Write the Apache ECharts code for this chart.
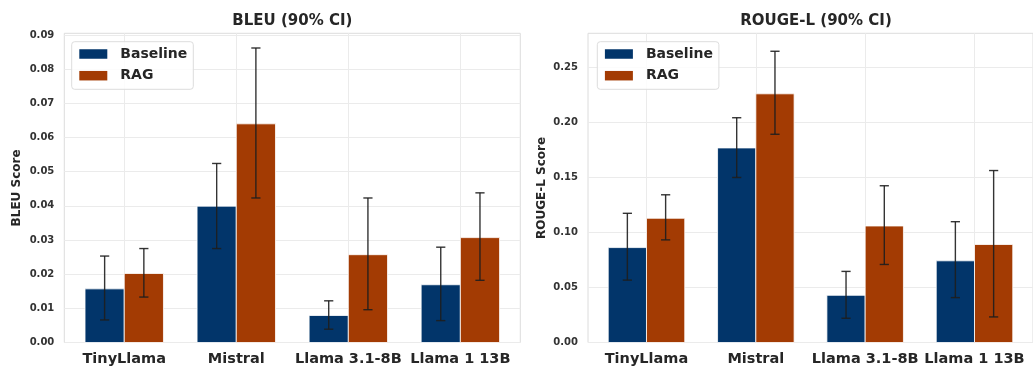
<!DOCTYPE html>
<html>
<head>
<meta charset="utf-8">
<script src="https://cdn.jsdelivr.net/npm/echarts@6/dist/echarts.min.js"></script>
<style>
html,body{margin:0;padding:0;background:#fff;}
#chart{width:1033px;height:367px;}
</style>
</head>
<body>
<div id="chart"></div>
<script>
// ---- data ----
const categories = ['TinyLlama', 'Mistral', 'Llama 3.1-8B', 'Llama 1 13B'];
const seriesNames = ['Baseline', 'RAG'];

const bleuBaseline     = [0.0157, 0.0399, 0.0079, 0.0169];
const bleuBaselineLow  = [0.0066, 0.0275, 0.0039, 0.0064];
const bleuBaselineHigh = [0.0253, 0.0524, 0.0122, 0.0279];
const bleuRag          = [0.0202, 0.0640, 0.0257, 0.0307];
const bleuRagLow       = [0.0133, 0.0423, 0.0096, 0.0182];
const bleuRagHigh      = [0.0275, 0.0862, 0.0423, 0.0438];

const rougeBaseline     = [0.0861, 0.1765, 0.0428, 0.0741];
const rougeBaselineLow  = [0.0566, 0.1497, 0.0220, 0.0407];
const rougeBaselineHigh = [0.1172, 0.2039, 0.0645, 0.1096];
const rougeRag          = [0.1127, 0.2256, 0.1057, 0.0889];
const rougeRagLow       = [0.0931, 0.1889, 0.0708, 0.0232];
const rougeRagHigh      = [0.1340, 0.2642, 0.1422, 0.1560];

const bleuTicks  = [0, 0.01, 0.02, 0.03, 0.04, 0.05, 0.06, 0.07, 0.08, 0.09];
const rougeTicks = [0, 0.05, 0.10, 0.15, 0.20, 0.25];
const catTicks   = [0, 1, 2, 3];

const titles = ['BLEU (90% CI)', 'ROUGE-L (90% CI)'];
const yNames = ['BLEU Score', 'ROUGE-L Score'];

// ---- styles ----
const COLORS = ['#02356A', '#A33B03'];
const BAR_W = 0.35;
const FONT = 'DejaVu Sans';
const TXT = '#262626';

function barRender(offset) {
  return function (params, api) {
    const i = api.value(0), v = api.value(1);
    const p0 = api.coord([i + offset, v]);
    const p1 = api.coord([i + offset + BAR_W, 0]);
    return {
      type: 'rect',
      shape: { x: p0[0], y: p0[1], width: p1[0] - p0[0], height: p1[1] - p0[1] },
      style: { fill: api.visual('color'), stroke: '#ffffff', lineWidth: 0.8 }
    };
  };
}
function errRender(offset) {
  return function (params, api) {
    const i = api.value(0);
    const xc = i + offset + BAR_W / 2;
    const lo = api.coord([xc, api.value(1)]);
    const hi = api.coord([xc, api.value(2)]);
    const cap = 4.6;
    const st = { stroke: '#1e1e1e', lineWidth: 1.4, opacity: 0.9 };
    return {
      type: 'group',
      children: [
        { type: 'line', shape: { x1: lo[0], y1: lo[1], x2: hi[0], y2: hi[1] }, style: st },
        { type: 'line', shape: { x1: lo[0] - cap, y1: lo[1], x2: lo[0] + cap, y2: lo[1] }, style: st },
        { type: 'line', shape: { x1: hi[0] - cap, y1: hi[1], x2: hi[0] + cap, y2: hi[1] }, style: st }
      ]
    };
  };
}

const panels = [
  { left: 64.3, ymax: 0.0905, ticks: bleuTicks, nameGap: 41,
    base: bleuBaseline, baseLo: bleuBaselineLow, baseHi: bleuBaselineHigh,
    rag: bleuRag, ragLo: bleuRagLow, ragHi: bleuRagHigh, legendLeft: 71.7 },
  { left: 588, ymax: 0.2805, ticks: rougeTicks, nameGap: 40,
    base: rougeBaseline, baseLo: rougeBaselineLow, baseHi: rougeBaselineHigh,
    rag: rougeRag, ragLo: rougeRagLow, ragHi: rougeRagHigh, legendLeft: 597.3 }
];

const grid = [], xAxis = [], yAxis = [], series = [], legend = [], graphic = [];
panels.forEach((p, k) => {
  grid.push({ left: p.left, top: 33.3, width: 456, height: 310, show: true,
              borderColor: '#dcdcdc', borderWidth: 1, backgroundColor: '#fff' });
  xAxis.push({
    type: 'value', gridIndex: k, min: -0.535, max: 3.535,
    axisLine: { show: false },
    axisTick: { show: false, customValues: catTicks },
    axisLabel: { customValues: catTicks, formatter: v => categories[Math.round(v)],
                 fontFamily: FONT, fontWeight: 'bold', fontSize: 14.5, color: TXT, margin: 9.5 },
    splitLine: { show: true, lineStyle: { color: '#ebebeb', width: 1 } }
  });
  yAxis.push({
    type: 'value', gridIndex: k, min: 0, max: p.ymax,
    name: yNames[k], nameLocation: 'middle', nameGap: p.nameGap, nameRotate: 90,
    nameTextStyle: { fontFamily: FONT, fontWeight: 'bold', fontSize: 12, color: TXT },
    axisLine: { show: false },
    axisTick: { show: false, customValues: p.ticks },
    axisLabel: { customValues: p.ticks, formatter: v => v.toFixed(2),
                 fontFamily: FONT, fontWeight: 'bold', fontSize: 10, color: '#333', margin: 10 },
    splitLine: { show: true, lineStyle: { color: '#ebebeb', width: 1 } }
  });
  const baseData = categories.map((c, i) => [i, p.base[i]]);
  const ragData  = categories.map((c, i) => [i, p.rag[i]]);
  const baseErr  = categories.map((c, i) => [i, p.baseLo[i], p.baseHi[i]]);
  const ragErr   = categories.map((c, i) => [i, p.ragLo[i], p.ragHi[i]]);
  series.push({ type: 'custom', name: seriesNames[0], xAxisIndex: k, yAxisIndex: k,
    itemStyle: { color: COLORS[0] }, renderItem: barRender(-BAR_W), data: baseData,
    encode: { x: 0, y: 1 }, z: 2 });
  series.push({ type: 'custom', name: seriesNames[1], xAxisIndex: k, yAxisIndex: k,
    itemStyle: { color: COLORS[1] }, renderItem: barRender(0), data: ragData,
    encode: { x: 0, y: 1 }, z: 2 });
  series.push({ type: 'custom', name: 'err' + k + 'a', xAxisIndex: k, yAxisIndex: k,
    renderItem: errRender(-BAR_W), data: baseErr, encode: { x: 0, y: [1, 2] }, z: 3 });
  series.push({ type: 'custom', name: 'err' + k + 'b', xAxisIndex: k, yAxisIndex: k,
    renderItem: errRender(0), data: ragErr, encode: { x: 0, y: [1, 2] }, z: 3 });
  legend.push({
    data: seriesNames, left: p.legendLeft, top: 41.7, orient: 'vertical',
    icon: 'rect', itemWidth: 28, itemHeight: 9.5, itemGap: 5.7,
    padding: [4.3, 6, 5.6, 7.6],
    backgroundColor: 'rgba(255,255,255,0.85)', borderColor: '#dddddd', borderWidth: 1, borderRadius: 3,
    textStyle: { fontFamily: FONT, fontWeight: 'bold', fontSize: 14, color: TXT, lineHeight: 16,
                 padding: [0, 0, 0, 8] },
    selectedMode: false, z: 10
  });
  graphic.push({ type: 'text', x: p.left + 228, y: 21.5, z: 10,
    style: { text: titles[k], textAlign: 'center', textVerticalAlign: 'middle',
             font: 'bold 15px "DejaVu Sans"', fill: TXT } });
});

const chart = echarts.init(document.getElementById('chart'), null, { renderer: 'canvas' });
chart.setOption({
  animation: false,
  backgroundColor: '#fff',
  grid, xAxis, yAxis, series, legend, graphic
});
</script>
</body>
</html>
